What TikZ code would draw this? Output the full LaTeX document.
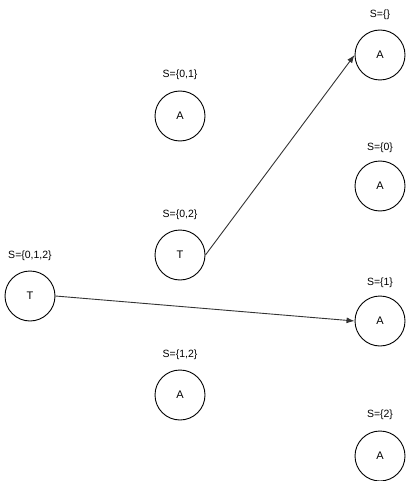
\documentclass[tikz,border=0pt]{standalone}
\usepackage{fontspec}
\setmainfont{Liberation Sans}
\usetikzlibrary{arrows.meta}
\begin{document}
\begin{tikzpicture}[x=1pt,y=-1pt,
  st/.style={circle,draw=black,line width=0.9pt,minimum size=50pt,inner sep=0pt,font=\fontsize{11}{13}\selectfont},
  lbl/.style={font=\fontsize{10.5}{12}\selectfont,inner sep=0pt},
  edge/.style={draw=black!80,line width=0.9pt,-{Latex[length=8pt,width=6pt]}}]
\useasboundingbox (0,0) rectangle (411,481);
\node[st] (t012) at (30,296) {T};
\node[lbl] at (30,256) {S=\{0,1,2\}};
\node[st] (a01) at (180,116) {A};
\node[lbl] at (180,75) {S=\{0,1\}};
\node[st] (t02) at (180,255) {T};
\node[lbl] at (180,215) {S=\{0,2\}};
\node[st] (a12) at (180,395) {A};
\node[lbl] at (180,355) {S=\{1,2\}};
\node[st] (ae) at (380,55) {A};
\node[lbl] at (380,15) {S=\{\}};
\node[st] (a0) at (380,186) {A};
\node[lbl] at (380,148) {S=\{0\}};
\node[st] (a1) at (380,321) {A};
\node[lbl] at (380,283) {S=\{1\}};
\node[st] (a2) at (380,456) {A};
\node[lbl] at (380,415) {S=\{2\}};
\draw[edge] (t012.east) -- (a1.west);
\draw[edge] (t02.east) -- (ae.west);
\end{tikzpicture}
\end{document}
